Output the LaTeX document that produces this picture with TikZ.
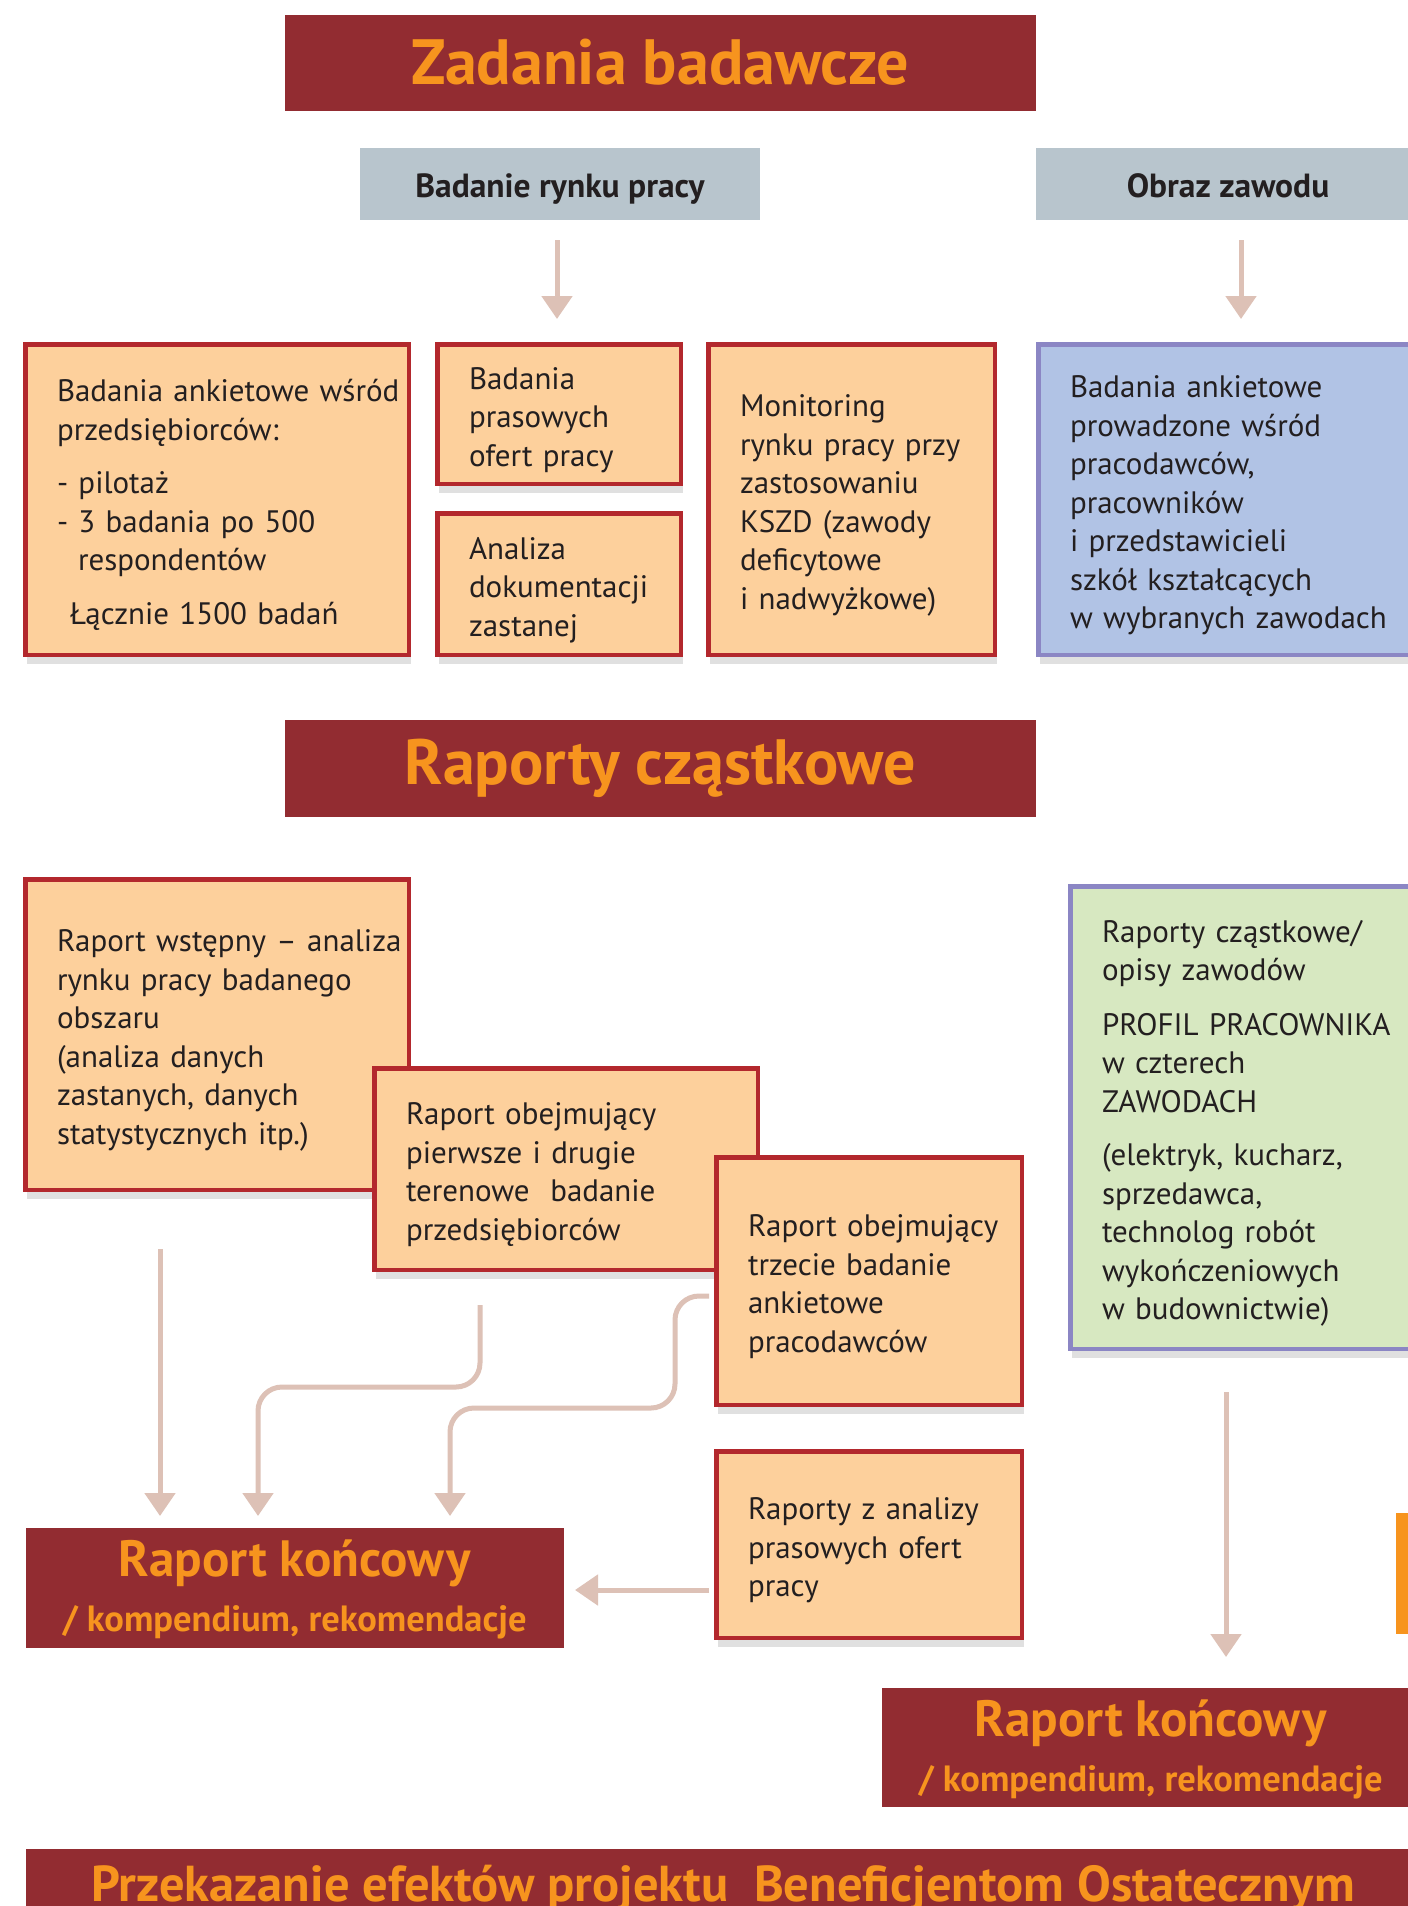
\documentclass[tikz,border=0pt]{standalone}
\usepackage{fontspec}
\setmainfont{PT Sans}
\usetikzlibrary{arrows.meta,shadows}
\definecolor{titlered}{HTML}{922C31}
\definecolor{titleorange}{HTML}{F7941E}
\definecolor{grayfill}{HTML}{B8C5CD}
\definecolor{peach}{HTML}{FDD09C}
\definecolor{redborder}{HTML}{B3282D}
\definecolor{bluefill}{HTML}{B1C3E5}
\definecolor{purpleborder}{HTML}{8B86C4}
\definecolor{greenfill}{HTML}{D7E8C1}
\definecolor{arrowc}{HTML}{DDC1B6}
\definecolor{textdark}{HTML}{231F20}
\newcommand\boxlines[1]{\raisebox{-6pt}[\height][\depth]{\begin{tabular}{@{}l@{}}#1\end{tabular}}}
\newcommand\finaltext{\raisebox{-5pt}[\height][\depth]{\begin{tabular}{@{}c@{}}Raport końcowy\\[-2pt] \fontsize{36.5}{55}\selectfont / kompendium, rekomendacje\end{tabular}}}
\tikzset{
  boxshadow/.style={drop shadow={shadow xshift=2pt, shadow yshift=-9pt, opacity=0.12, fill=black}},
  basebox/.style={line width=4.5pt, inner xsep=0pt, inner ysep=0pt, text=textdark, align=left,
    font=\fontsize{31}{38.5}\selectfont, boxshadow},
  peachbox/.style={basebox, draw=redborder, fill=peach},
  bluebox/.style={basebox, draw=purpleborder, fill=bluefill},
  greenbox/.style={basebox, draw=purpleborder, fill=greenfill},
  titlebox/.style={fill=titlered, text=titleorange, inner sep=0pt, align=center},
  graybox/.style={fill=grayfill, text=textdark, inner sep=0pt, text height=30pt, text depth=4pt,
    font=\bfseries\fontsize{33.5}{38}\selectfont},
  arr/.style={draw=arrowc, line width=5pt, rounded corners=24pt, -{Triangle[length=23pt,width=30pt]}},
  finalbox/.style={titlebox, font=\bfseries\fontsize{51}{57}\selectfont},
}
\begin{document}
\begin{tikzpicture}[x=1pt,y=-1pt]
\useasboundingbox (0,0) rectangle (1408,1906);
\clip (0,0) rectangle (1408,1906);
\fill[white] (0,0) rectangle (1408,1906);

% headers
\node[titlebox, minimum width=751.5pt, minimum height=96pt, font=\bfseries\fontsize{64}{72}\selectfont] (zad) at (660.25,62.6) {Zadania badawcze};
\node[graybox, minimum width=400pt, minimum height=72pt] (brp) at (560,184) {Badanie rynku pracy};
\node[graybox, minimum width=384pt, minimum height=72pt] (obz) at (1228,184) {Obraz zawodu};

% top arrows
\coordinate (a1s) at (557,240); \coordinate (a1e) at (557,319);
\coordinate (a2s) at (1241,240); \coordinate (a2e) at (1241,319);
\draw[arr] (a1s) -- (a1e);
\draw[arr] (a2s) -- (a2e);

% research boxes
\node[peachbox, minimum width=383.5pt, minimum height=310.5pt, text width=320pt] (bA) at (217,499.5)
 {\boxlines{Badania ankietowe wśród\\ przedsiębiorców:\\[15pt] - pilotaż\\ - 3 badania po 500\\ \hspace*{21pt}respondentów\\[15pt] \hspace*{13pt}Łącznie 1500 badań}};
\node[peachbox, minimum width=243.5pt, minimum height=139.5pt, text width=180pt] (bB) at (559,414)
 {\boxlines{Badania\\ prasowych\\ ofert pracy}};
\node[peachbox, minimum width=243.5pt, minimum height=141.5pt, text width=180pt] (bC) at (559,584)
 {\boxlines{Analiza\\ dokumentacji\\ zastanej}};
\node[peachbox, minimum width=286.5pt, minimum height=310.5pt, text width=223pt] (bD) at (851.5,499.5)
 {\boxlines{Monitoring\\ rynku pracy przy\\ zastosowaniu\\ KSZD (zawody\\ deficytowe\\ i nadwyżkowe)}};
\node[bluebox, minimum width=379.5pt, minimum height=310.5pt, text width=316pt] (bE) at (1228,499.5)
 {\boxlines{Badania ankietowe\\ prowadzone wśród\\ pracodawców,\\ pracowników\\ i przedstawicieli\\ szkół kształcących\\ w wybranych zawodach}};

\node[titlebox, minimum width=751.5pt, minimum height=97pt, font=\bfseries\fontsize{64}{72}\selectfont] (rc) at (660.25,768.5) {Raporty cząstkowe};

% report boxes
\node[peachbox, minimum width=383.5pt, minimum height=310.5pt, text width=320pt] (bF) at (217,1034.5)
 {\boxlines{Raport wstępny – analiza\\ rynku pracy badanego\\ obszaru\\ (analiza danych\\ zastanych, danych\\ statystycznych itp.)}};
\node[peachbox, minimum width=383.5pt, minimum height=201.5pt, text width=320pt] (bG) at (566,1169)
 {\boxlines{Raport obejmujący\\ pierwsze i drugie\\ terenowe\ \ badanie\\ przedsiębiorców}};
\node[peachbox, minimum width=305.5pt, minimum height=247.5pt, text width=242pt] (bH) at (869,1281)
 {\boxlines{Raport obejmujący\\ trzecie badanie\\ ankietowe\\ pracodawców}};
\node[greenbox, minimum width=347.5pt, minimum height=462.5pt, text width=284pt] (bI) at (1244,1117.5)
 {\boxlines{Raporty cząstkowe/\\ opisy zawodów\\[16pt] PROFIL PRACOWNIKA\\ w czterech\\ ZAWODACH\\[15pt] (elektryk, kucharz,\\ sprzedawca,\\ technolog robót\\ wykończeniowych\\ w budownictwie)}};
\node[peachbox, minimum width=305.5pt, minimum height=186.5pt, text width=242pt] (bJ) at (869,1544.5)
 {\boxlines{Raporty z analizy\\ prasowych ofert\\ pracy}};

% final reports
\node[finalbox, minimum width=538.5pt, minimum height=120pt] (rkL) at (294.75,1588) {\finaltext};
\node[finalbox, minimum width=538.5pt, minimum height=119pt] (rkR) at (1150.75,1747.5) {\finaltext};

% orange sliver
\node[fill=titleorange, inner sep=0pt, minimum width=24pt, minimum height=121pt] (orb) at (1408,1573.5) {};

% bottom bar
\node[fill=titlered, inner sep=0pt, minimum width=1414.5pt, minimum height=111pt] (bar) at (732.75,1904.5) {};
\node[text=titleorange, font=\bfseries\fontsize{50.5}{55}\selectfont, inner sep=0pt, anchor=base] (bartxt) at (723,1901)
 {Przekazanie efektów projektu\ \ Beneficjentom Ostatecznym};

% report arrows
\coordinate (f1s) at (160,1249); \coordinate (f1e) at (160,1516);
\coordinate (g1s) at (480,1305); \coordinate (g1e) at (258,1516);
\coordinate (h1s) at (709,1296); \coordinate (h1e) at (450,1516);
\coordinate (j1s) at (709,1590); \coordinate (j1e) at (575,1590);
\coordinate (i1s) at (1226,1392); \coordinate (i1e) at (1226,1657);
\draw[arr] (f1s) -- (f1e);
\draw[arr] (g1s) -- (480,1387) -- (258,1387) -- (g1e);
\draw[arr] (h1s) -- (675,1296) -- (675,1408) -- (450,1408) -- (h1e);
\draw[arr] (j1s) -- (j1e);
\draw[arr] (i1s) -- (i1e);
\end{tikzpicture}
\end{document}
